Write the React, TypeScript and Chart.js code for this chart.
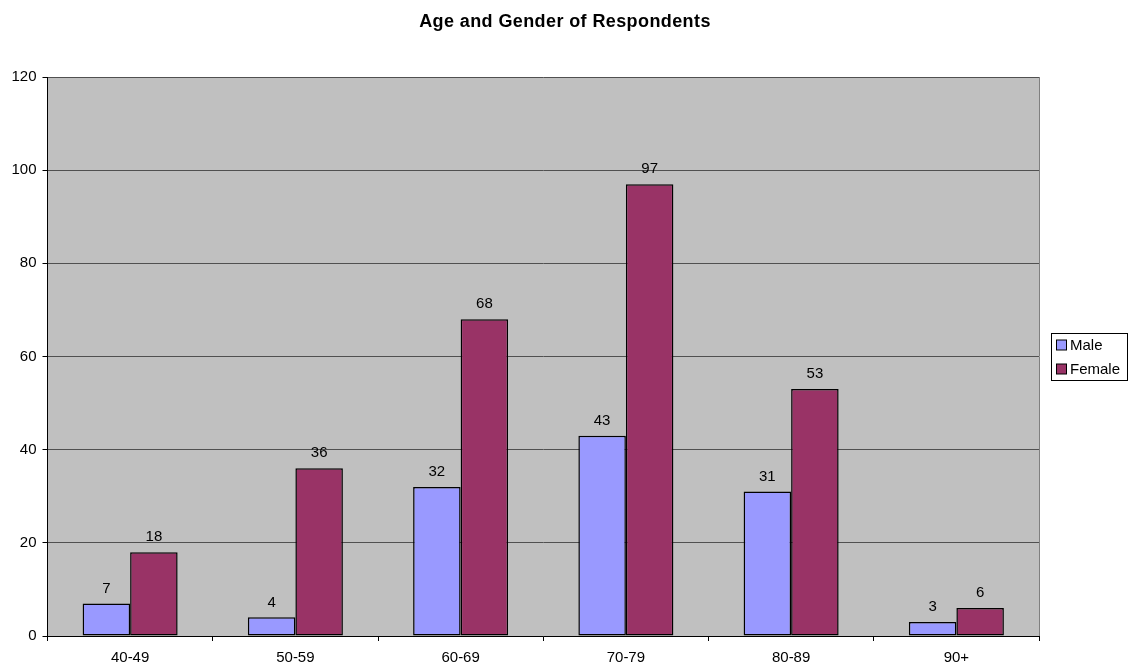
import React, { useEffect, useRef } from "react";
import { Chart, registerables } from "chart.js";

Chart.register(...registerables);

const categories = ["40-49", "50-59", "60-69", "70-79", "80-89", "90+"];
const maleValues = [7, 4, 32, 43, 31, 3];
const femaleValues = [18, 36, 68, 97, 53, 6];
const seriesNames = ["Male", "Female"];
const seriesColors = ["#9999FF", "#993366"];
const chartTitle = "Age and Gender of Respondents";

const FONT = "'Liberation Sans', Arial, sans-serif";

// Grey plot area and its lighter right edge
const plotBackground = {
  id: "plotBackground",
  beforeDraw(chart: any) {
    const { ctx, chartArea } = chart;
    ctx.save();
    ctx.fillStyle = "#C0C0C0";
    ctx.fillRect(chartArea.left, chartArea.top, chartArea.right - chartArea.left, chartArea.bottom - chartArea.top);
    ctx.restore();
  },
  afterDatasetsDraw(chart: any) {
    const { ctx, chartArea } = chart;
    ctx.save();
    ctx.strokeStyle = "#808080";
    ctx.lineWidth = 1;
    ctx.beginPath();
    const x = Math.round(chartArea.right) + 0.5;
    ctx.moveTo(x, chartArea.top);
    ctx.lineTo(x, chartArea.bottom);
    ctx.stroke();
    ctx.restore();
  },
};

// Centred bold title across the whole canvas
const pageTitle = {
  id: "pageTitle",
  afterDraw(chart: any) {
    const { ctx } = chart;
    ctx.save();
    ctx.font = `bold 18px ${FONT}`;
    (ctx as any).letterSpacing = "0.4px";
    ctx.fillStyle = "#000";
    ctx.textAlign = "center";
    ctx.textBaseline = "middle";
    ctx.fillText(chartTitle, 565, 22);
    ctx.restore();
  },
};

// Value printed above each bar
const valueLabels = {
  id: "valueLabels",
  afterDatasetsDraw(chart: any) {
    const { ctx } = chart;
    ctx.save();
    ctx.font = `15px ${FONT}`;
    ctx.fillStyle = "#000";
    ctx.textAlign = "center";
    ctx.textBaseline = "middle";
    chart.data.datasets.forEach((ds: any, i: number) => {
      const meta = chart.getDatasetMeta(i);
      meta.data.forEach((bar: any, j: number) => {
        ctx.fillText(String(ds.data[j]), bar.x, bar.y - 15);
      });
    });
    ctx.restore();
  },
};

// Boxed legend to the right of the plot
const boxedLegend = {
  id: "boxedLegend",
  afterDraw(chart: any) {
    const { ctx } = chart;
    const left = 1051.5;
    const top = 333.5;
    const w = 76;
    const h = 47;
    ctx.save();
    ctx.fillStyle = "#fff";
    ctx.fillRect(left, top, w, h);
    ctx.strokeStyle = "#000";
    ctx.lineWidth = 1;
    ctx.strokeRect(left, top, w, h);
    ctx.font = `15px ${FONT}`;
    ctx.textBaseline = "middle";
    ctx.textAlign = "left";
    seriesNames.forEach((name, i) => {
      const cy = 345 + i * 24;
      ctx.fillStyle = seriesColors[i];
      ctx.fillRect(1056.5, cy - 5, 10, 10);
      ctx.strokeStyle = "#000";
      ctx.strokeRect(1056.5, cy - 5, 10, 10);
      ctx.fillStyle = "#000";
      ctx.fillText(name, 1070, cy + 1);
    });
    ctx.restore();
  },
};

export default function App() {
  const canvasRef = useRef<HTMLCanvasElement | null>(null);

  useEffect(() => {
    if (!canvasRef.current) return;
    const barStyle = {
      borderColor: "#000",
      borderWidth: 1.5,
      borderSkipped: false as const,
      categoryPercentage: 0.575,
      barPercentage: 1,
    };
    const chart = new Chart(canvasRef.current, {
      type: "bar",
      data: {
        labels: categories,
        datasets: [
          { label: seriesNames[0], data: maleValues, backgroundColor: seriesColors[0], ...barStyle },
          { label: seriesNames[1], data: femaleValues, backgroundColor: seriesColors[1], ...barStyle },
        ],
      },
      options: {
        responsive: false,
        animation: false,
        layout: { padding: { left: 0, right: 91, top: 77, bottom: 0 } },
        plugins: {
          legend: { display: false },
          tooltip: { enabled: false },
          title: { display: false },
        },
        scales: {
          x: {
            grid: {
              offset: true,
              drawOnChartArea: false,
              drawTicks: true,
              tickLength: 5,
              tickColor: "#000",
            },
            border: { color: "#000", width: 1 },
            ticks: { color: "#000", font: { family: FONT, size: 15 }, padding: 8 },
            afterFit(scale: any) {
              scale.height = 30;
            },
          },
          y: {
            min: 0,
            max: 120,
            ticks: { stepSize: 20, color: "#000", font: { family: FONT, size: 15 }, padding: 6 },
            grid: { color: "#505050", tickColor: "#000", tickLength: 5 },
            border: { color: "#000", width: 1 },
            afterFit(scale: any) {
              scale.width = 47.5;
            },
          },
        },
      },
      plugins: [plotBackground, valueLabels, boxedLegend, pageTitle],
    });
    return () => chart.destroy();
  }, []);

  return (
    <div style={{ position: "fixed", left: 0, top: 0, width: 1130, height: 666, background: "#fff" }}>
      <canvas ref={canvasRef} width={1130} height={666} style={{ display: "block" }} />
    </div>
  );
}
